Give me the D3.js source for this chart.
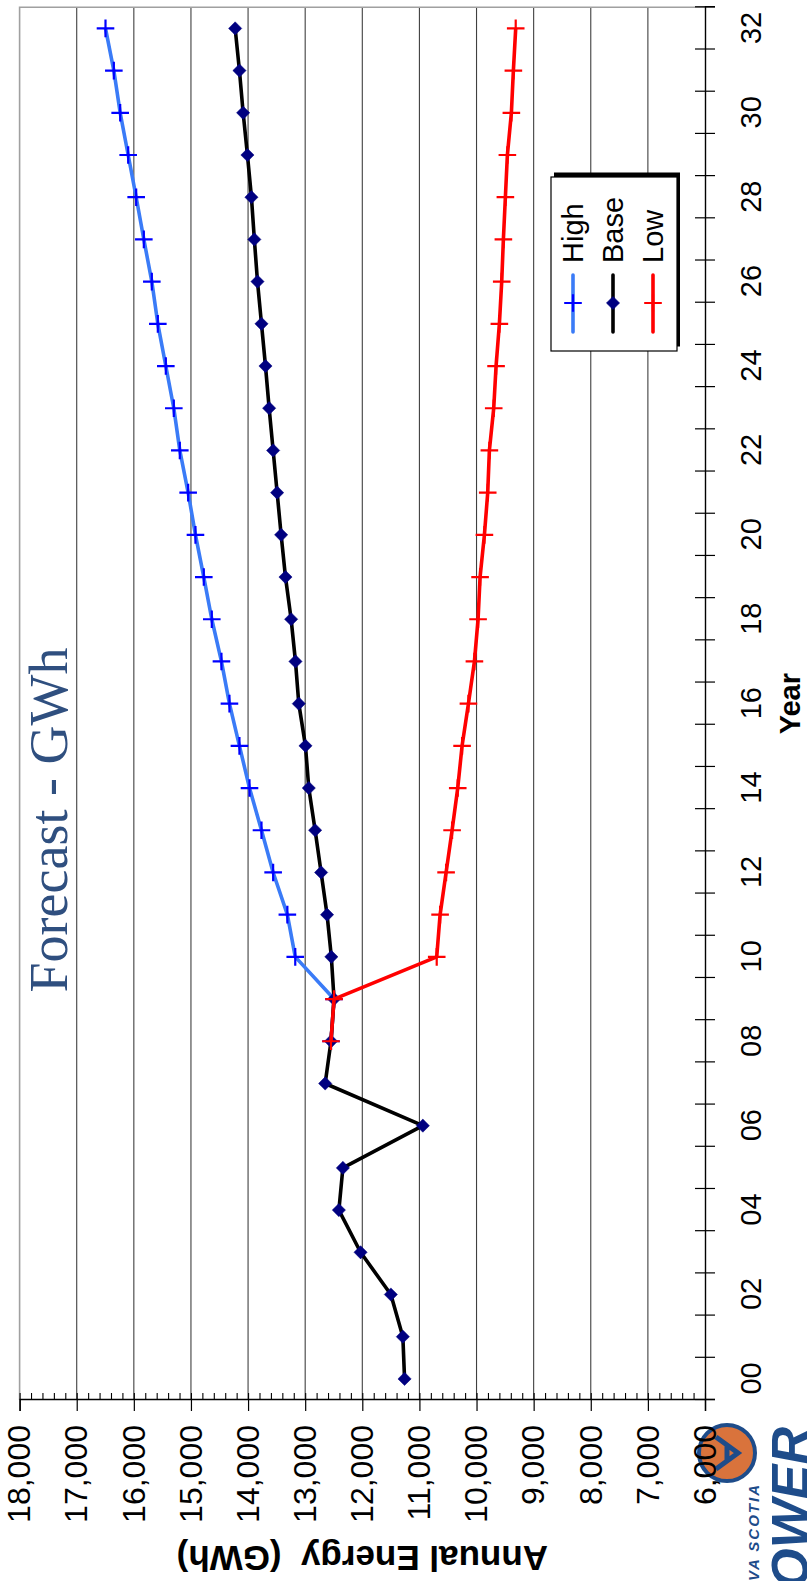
<!DOCTYPE html>
<html>
<head>
<meta charset="utf-8">
<script src="https://cdn.jsdelivr.net/npm/d3@7"></script>
<style>
  html, body { margin: 0; padding: 0; background: #ffffff; }
  svg { display: block; }
</style>
</head>
<body>
<svg id="chart" width="807" height="1581"></svg>
<script>
// Annual energy forecast (GWh) by year: history + Base case, with High and Low scenarios
const years = ["00","01","02","03","04","05","06","07","08","09","10",
               "11","12","13","14","15","16","17","18","19","20","21",
               "22","23","24","25","26","27","28","29","30","31","32"];

const baseGWh = [11260, 11290, 11500, 12030, 12410, 12340, 10940, 12650, 12548, 12495, 12542,
                 12617, 12721, 12826, 12937, 12995, 13112, 13170, 13246, 13345, 13421, 13491,
                 13561, 13631, 13695, 13765, 13835, 13890, 13941, 14011, 14086, 14151, 14226];

const highGWh = [null, null, null, null, null, null, null, null, 12548, 12495, 13174,
                 13312, 13561, 13765, 13975, 14151, 14326, 14466, 14635, 14775, 14921, 15049,
                 15195, 15300, 15440, 15580, 15685, 15825, 15959, 16099, 16239, 16350, 16496];

const lowGWh  = [null, null, null, null, null, null, null, null, 12548, 12495, 10697,
                 10638, 10533, 10428, 10329, 10253, 10142, 10037, 9973, 9938, 9862, 9804,
                 9775, 9699, 9658, 9600, 9559, 9530, 9495, 9460, 9390, 9355, 9314];

const valueTicks = [6000, 7000, 8000, 9000, 10000, 11000, 12000, 13000, 14000, 15000, 16000, 17000, 18000];
const minorValueTicks = d3.range(6000, 18001, 200);
const yearTickLabels = ["00","02","04","06","08","10","12","14","16","18","20","22","24","26","28","30","32"];
const seriesNames = ["High", "Base", "Low"];

const chartTitle = "Forecast - GWh";
const xTitle = "Year";
const yTitle = "Annual Energy \u00A0(GWh)";

// The chart is laid out landscape (W x H) and turned a quarter-turn counter-clockwise.
const W = 1581, H = 807;
const SANS = "'Liberation Sans', Arial, Helvetica, sans-serif";
const SERIF = "'Liberation Serif', 'Times New Roman', Times, serif";

const svg = d3.select("#chart");
const g = svg.append("g").attr("transform", `translate(0,${W}) rotate(-90)`);

const plot = { left: 181, right: 1573.7, top: 19.6, bottom: 705 };

const x = d3.scaleLinear().domain([-0.5, years.length - 0.5]).range([plot.left, plot.right]);
const y = d3.scaleLinear().domain([6000, 18000]).range([plot.bottom, plot.top]);

// ---- logo (drawn first so axis labels sit above it) ----
const logo = g.append("g");
logo.append("circle")
  .attr("cx", 128).attr("cy", 727).attr("r", 28)
  .attr("fill", "#D9733C").attr("stroke", "#1E4C8A").attr("stroke-width", 4);
logo.append("path")
  .attr("d", "M112,716 L128,738 L144,716 M120,727 L136,727")
  .attr("fill", "none").attr("stroke", "#1E4C8A").attr("stroke-width", 5);
logo.append("text")
  .attr("x", 154).attr("y", 808)
  .attr("text-anchor", "end")
  .attr("font-family", SANS).attr("font-weight", "bold").attr("font-style", "italic")
  .attr("font-size", 52).attr("fill", "#1E4C8A")
  .text("POWER");
logo.append("text")
  .attr("x", 98).attr("y", 759)
  .attr("text-anchor", "end")
  .attr("font-family", SANS).attr("font-weight", "bold").attr("font-style", "italic")
  .attr("font-size", 15).attr("letter-spacing", 2).attr("fill", "#1E4C8A")
  .text("NOVA SCOTIA");

// ---- gridlines ----
g.append("g").selectAll("line")
  .data(valueTicks.filter(v => v > 6000 && v < 18000))
  .join("line")
  .attr("x1", plot.left).attr("x2", plot.right)
  .attr("y1", d => y(d)).attr("y2", d => y(d))
  .attr("stroke", "#404040").attr("stroke-width", 1.1);

// plot border (top and far end)
g.append("path")
  .attr("d", `M${plot.left},${plot.top} L${plot.right},${plot.top} L${plot.right},${plot.bottom}`)
  .attr("fill", "none").attr("stroke", "#a0a0a0").attr("stroke-width", 1.6);

// ---- value axis ----
const yAxisG = g.append("g").attr("transform", `translate(${plot.left},0)`);
yAxisG.call(d3.axisLeft(y).tickValues(valueTicks).tickSize(11).tickPadding(14).tickFormat(d3.format(",")));
yAxisG.select(".domain").attr("stroke", "#000").attr("stroke-width", 1.4);
yAxisG.selectAll(".tick line").attr("stroke", "#000").attr("stroke-width", 1.2);
yAxisG.selectAll(".tick text")
  .attr("font-family", SANS).attr("font-size", 32).attr("fill", "#000");

const yMinorG = g.append("g").attr("transform", `translate(${plot.left},0)`);
yMinorG.call(d3.axisLeft(y).tickValues(minorValueTicks).tickSize(-7).tickFormat(""));
yMinorG.select(".domain").remove();
yMinorG.selectAll(".tick line").attr("stroke", "#000").attr("stroke-width", 1.1);

// ---- year axis ----
const boundaries = d3.range(-0.5, years.length, 1);
const xOut = g.append("g").attr("transform", `translate(0,${plot.bottom})`);
xOut.call(d3.axisBottom(x).tickValues(boundaries).tickSize(10).tickFormat(""));
xOut.select(".domain").attr("stroke", "#000").attr("stroke-width", 1.4);
xOut.selectAll(".tick line").attr("stroke", "#000").attr("stroke-width", 1.2);

const xIn = g.append("g").attr("transform", `translate(0,${plot.bottom})`);
xIn.call(d3.axisBottom(x).tickValues(boundaries).tickSize(-10).tickFormat(""));
xIn.select(".domain").remove();
xIn.selectAll(".tick line").attr("stroke", "#000").attr("stroke-width", 1.2);

const xLab = g.append("g").attr("transform", `translate(0,${plot.bottom})`);
xLab.call(d3.axisBottom(x)
  .tickValues(yearTickLabels.map(l => years.indexOf(l)))
  .tickSize(0).tickPadding(35)
  .tickFormat(i => years[i]));
xLab.select(".domain").remove();
xLab.selectAll(".tick text")
  .attr("font-family", SANS).attr("font-size", 29).attr("fill", "#000");

// ---- axis titles ----
g.append("text")
  .attr("x", (plot.left + plot.right) / 2).attr("y", 800)
  .attr("text-anchor", "middle")
  .attr("font-family", SANS).attr("font-weight", "bold").attr("font-size", 29)
  .text(xTitle);

g.append("text")
  .attr("transform", `translate(35,${(plot.top + plot.bottom) / 2}) rotate(-90)`)
  .attr("text-anchor", "middle")
  .attr("font-family", SANS).attr("font-weight", "bold").attr("font-size", 35)
  .text(yTitle);

// ---- chart title ----
g.append("text")
  .attr("x", 761).attr("y", 67)
  .attr("text-anchor", "middle")
  .attr("font-family", SERIF).attr("font-size", 54).attr("fill", "#2F4F7F")
  .text(chartTitle);

// ---- marker shapes ----
const plusShape = {
  draw(ctx, size) {
    const r = Math.sqrt(size) / 2;
    ctx.moveTo(-r, 0); ctx.lineTo(r, 0);
    ctx.moveTo(0, -r); ctx.lineTo(0, r);
  }
};
const diamondShape = {
  draw(ctx, size) {
    const r = Math.sqrt(size) / 2;
    ctx.moveTo(0, -r); ctx.lineTo(r, 0); ctx.lineTo(0, r); ctx.lineTo(-r, 0); ctx.closePath();
  }
};

const series = [
  { name: seriesNames[0], values: highGWh, line: "#3A7BF7", marker: "#0000FF", shape: plusShape, size: 310, filled: false },
  { name: seriesNames[1], values: baseGWh, line: "#000000", marker: "#000080", shape: diamondShape, size: 175, filled: true },
  { name: seriesNames[2], values: lowGWh,  line: "#FF0000", marker: "#FF0000", shape: plusShape, size: 310, filled: false }
];

const lineGen = d3.line()
  .defined(d => d != null)
  .x((d, i) => x(i))
  .y(d => y(d));

series.forEach(s => {
  const sg = g.append("g");
  sg.append("path")
    .attr("d", lineGen(s.values))
    .attr("fill", "none").attr("stroke", s.line).attr("stroke-width", 3.6)
    .attr("stroke-linejoin", "round");
  const sym = d3.symbol().type(s.shape).size(s.size);
  sg.selectAll("path.mk")
    .data(s.values.map((v, i) => ({ v, i })).filter(d => d.v != null))
    .join("path")
    .attr("class", "mk")
    .attr("transform", d => `translate(${x(d.i)},${y(d.v)})`)
    .attr("d", sym())
    .attr("fill", s.filled ? s.marker : "none")
    .attr("stroke", s.marker)
    .attr("stroke-width", s.filled ? 0.5 : 2.2);
});

// ---- legend ----
const legend = { x: 1230, y: 551, w: 174, h: 126 };
const lg = g.append("g");
lg.append("rect")
  .attr("x", legend.x + 4.5).attr("y", legend.y + 3)
  .attr("width", legend.w).attr("height", legend.h)
  .attr("fill", "#000");
lg.append("rect")
  .attr("x", legend.x).attr("y", legend.y)
  .attr("width", legend.w).attr("height", legend.h)
  .attr("fill", "#fff").attr("stroke", "#000").attr("stroke-width", 1.2);

const rowY = d3.scalePoint().domain(seriesNames).range([legend.y + 22, legend.y + 102]);
series.forEach(s => {
  const ry = rowY(s.name);
  lg.append("line")
    .attr("x1", legend.x + 19).attr("x2", legend.x + 76)
    .attr("y1", ry).attr("y2", ry)
    .attr("stroke", s.line).attr("stroke-width", 3.6).attr("stroke-linecap", "round");
  lg.append("path")
    .attr("transform", `translate(${legend.x + 48},${ry})`)
    .attr("d", d3.symbol().type(s.shape).size(s.size)())
    .attr("fill", s.filled ? s.marker : "none")
    .attr("stroke", s.marker)
    .attr("stroke-width", s.filled ? 0.5 : 2.2);
  lg.append("text")
    .attr("x", legend.x + 88).attr("y", ry + 10)
    .attr("font-family", SANS).attr("font-size", 29).attr("fill", "#000")
    .text(s.name);
});
</script>
</body>
</html>
